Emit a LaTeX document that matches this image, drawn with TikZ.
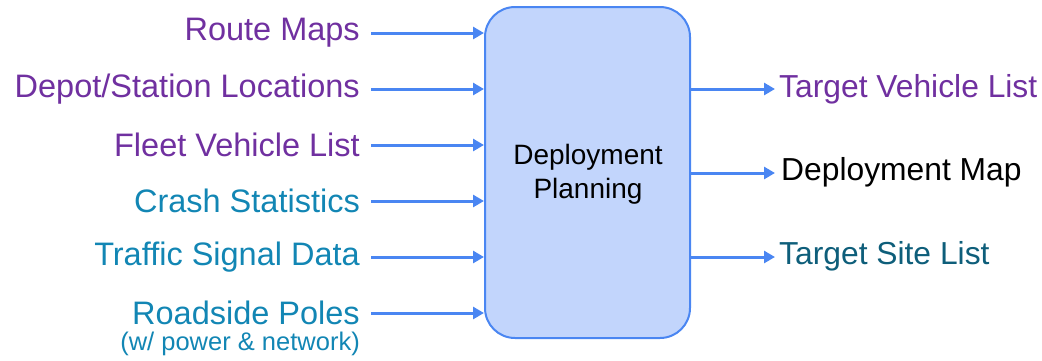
\documentclass[tikz,border=0pt]{standalone}
\usepackage{fontspec}
\setmainfont{Liberation Sans}
\usetikzlibrary{arrows.meta}
\definecolor{purp}{HTML}{7030A0}
\definecolor{teal1}{HTML}{1286B4}
\definecolor{teal2}{HTML}{0E5E7A}
\definecolor{boxfill}{HTML}{C2D5FC}
\definecolor{boxline}{HTML}{4A86F2}
\tikzset{
  inlabel/.style={anchor=east, inner sep=0pt, font=\fontsize{32.5}{32.5}\selectfont},
  outlabel/.style={anchor=west, inner sep=0pt, font=\fontsize{31.8}{31.8}\selectfont},
  flow/.style={draw=boxline, line width=3pt, -{Triangle[length=11pt,width=12pt]}},
  procbox/.style={draw=boxline, fill=boxfill, line width=2pt, rounded corners=30pt, minimum width=205pt, minimum height=331pt, inner sep=0pt}
}
\begin{document}
\begin{tikzpicture}[x=1pt,y=-1pt]
\useasboundingbox (0,0) rectangle (1042,360);
\node[procbox] (P) at (587.5,172.5) {};
\node[align=center, inner sep=0pt, font=\fontsize{28}{34}\selectfont] (PT) at (588,174) {Deployment\\Planning};
% inputs
\node[inlabel, text=purp] (i1) at (360,33) {Route Maps};
\node[inlabel, text=purp] (i2) at (360,89) {Depot/Station Locations};
\node[inlabel, text=purp] (i3) at (360,145) {Fleet Vehicle List};
\node[inlabel, text=teal1] (i4) at (360,201) {Crash Statistics};
\node[inlabel, text=teal1] (i5) at (360,257) {Traffic Signal Data};
\node[inlabel, text=teal1] (i6) at (360,313) {Roadside Poles};
\node[anchor=east, inner sep=0pt, text=teal1, font=\fontsize{25.5}{25.5}\selectfont] (i6b) at (360,344) {(w/ power \& network)};
\foreach \n/\y in {i1/33,i2/89,i3/145,i4/201,i5/257,i6/313}{
  \coordinate (s\n) at (371,\y);
  \draw[flow] (s\n) -- (s\n -| P.west);
}
% outputs
\node[outlabel, text=purp] (o1) at (779,89) {Target Vehicle List};
\node[outlabel, text=black] (o2) at (781,172) {Deployment Map};
\node[outlabel, text=teal2] (o3) at (779,256) {Target Site List};
\foreach \n/\y in {o1/89,o2/173,o3/257}{
  \coordinate (t\n) at (775,\y);
  \draw[flow] (t\n -| P.east) -- (t\n);
}
\end{tikzpicture}
\end{document}
